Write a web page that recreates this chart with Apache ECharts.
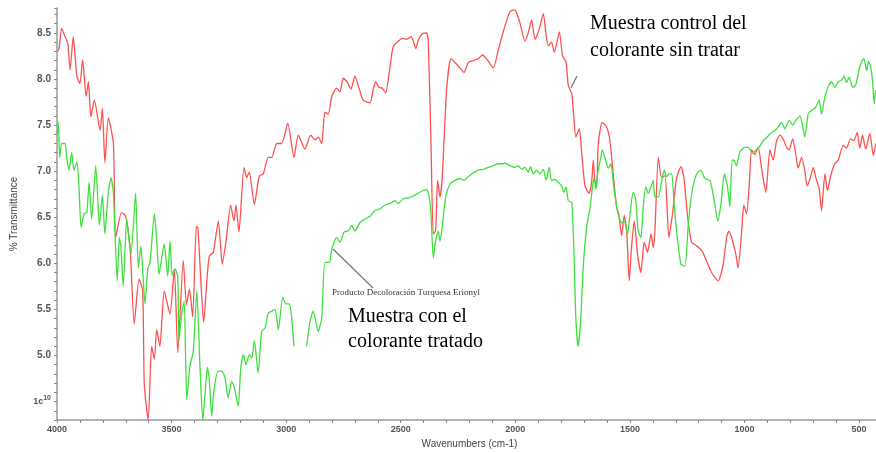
<!DOCTYPE html>
<html>
<head>
<meta charset="utf-8">
<title>Espectro IR</title>
<script src="https://cdn.jsdelivr.net/npm/echarts@6/dist/echarts.min.js"></script>
<style>
html, body { margin: 0; height: 100%; background: #fff; }
#main { width: 876px; height: 453px; }
</style>
</head>
<body>
<div id="main"></div>
<script>
// muestra control (sin tratar) - [wavenumber, %T]
var controlData = [
  [3998,8.30],[3991,8.33],[3980,8.55],[3965,8.46],[3953,8.39],[3943,8.10],[3929,8.46],[3914,8.04],[3900,7.95],
  [3888,8.21],[3873,7.81],[3863,7.97],[3852,7.59],[3837,7.77],[3812,7.44],[3802,7.68],[3791,7.09],[3776,7.58],
  [3754,7.30],[3744,6.28],[3718,6.55],[3700,6.51],[3681,6.17],[3663,5.34],[3642,5.83],[3626,5.70],[3619,4.68],
  [3602,4.30],[3587,5.10],[3575,4.96],[3565,5.28],[3551,5.10],[3532,5.70],[3507,5.45],[3488,5.94],[3473,5.03],
  [3449,6.03],[3435,5.55],[3422,5.72],[3408,5.42],[3392,6.40],[3385,6.38],[3370,5.70],[3360,5.36],[3345,5.85],
  [3335,6.08],[3318,6.12],[3296,6.46],[3279,5.99],[3263,6.23],[3242,6.63],[3228,6.46],[3219,6.63],[3206,6.34],
  [3184,7.04],[3172,6.93],[3161,6.99],[3139,6.64],[3117,6.95],[3100,6.97],[3078,7.15],[3063,7.15],[3041,7.30],
  [3020,7.30],[2993,7.52],[2966,7.15],[2947,7.39],[2918,7.24],[2893,7.39],[2874,7.34],[2860,7.37],[2845,7.30],
  [2831,7.64],[2816,7.62],[2801,7.81],[2780,7.90],[2765,7.86],[2751,8.01],[2732,7.96],[2717,7.89],[2700,8.03],
  [2682,7.90],[2664,7.77],[2634,7.74],[2620,7.89],[2609,7.97],[2595,7.91],[2581,7.90],[2566,7.85],[2547,8.13],
  [2533,8.35],[2511,8.41],[2493,8.44],[2474,8.43],[2455,8.46],[2445,8.41],[2434,8.33],[2424,8.42],[2406,8.49],
  [2387,8.50],[2380,8.41],[2368,7.30],[2358,6.32],[2348,6.35],[2339,6.90],[2329,6.72],[2319,6.93],[2300,7.88],
  [2281,8.22],[2260,8.17],[2242,8.12],[2224,8.07],[2205,8.18],[2184,8.20],[2162,8.22],[2143,8.26],[2123,8.21],
  [2096,8.12],[2075,8.31],[2053,8.51],[2024,8.73],[2002,8.75],[1992,8.70],[1980,8.61],[1958,8.41],[1944,8.50],
  [1929,8.64],[1914,8.43],[1897,8.53],[1878,8.71],[1866,8.48],[1856,8.36],[1842,8.40],[1830,8.29],[1808,8.51],
  [1794,8.25],[1779,8.19],[1769,7.93],[1754,7.84],[1747,7.66],[1736,7.37],[1721,7.46],[1711,7.21],[1696,6.84],
  [1678,6.76],[1667,6.88],[1660,7.12],[1653,6.90],[1645,6.84],[1638,7.30],[1621,7.53],[1602,7.48],[1587,7.33],
  [1573,6.97],[1558,6.61],[1548,6.52],[1536,6.30],[1525,6.52],[1514,6.35],[1503,5.81],[1493,6.17],[1481,6.46],
  [1467,6.10],[1452,5.90],[1438,6.23],[1423,6.12],[1408,6.32],[1398,6.17],[1391,6.35],[1376,7.15],[1362,6.93],
  [1347,6.95],[1330,6.28],[1314,6.54],[1296,6.93],[1277,7.05],[1263,6.90],[1248,6.50],[1231,6.23],[1209,6.19],
  [1187,6.14],[1166,6.03],[1144,5.90],[1115,5.81],[1093,5.99],[1078,6.28],[1068,6.35],[1056,6.28],[1049,6.21],
  [1038,6.10],[1028,5.95],[1013,6.32],[1003,6.63],[991,6.54],[980,6.83],[969,7.23],[955,7.18],[940,7.26],
  [926,7.04],[907,6.77],[889,7.23],[875,7.12],[860,7.33],[846,7.39],[828,7.33],[817,7.26],[805,7.23],
  [790,7.35],[776,7.18],[766,7.03],[751,7.15],[737,7.01],[727,6.84],[715,6.91],[700,7.04],[689,6.93],
  [674,6.81],[664,6.57],[649,6.97],[638,6.79],[624,6.95],[606,7.08],[591,7.12],[569,7.28],[555,7.25],
  [537,7.35],[523,7.33],[508,7.42],[497,7.25],[485,7.39],[471,7.24],[453,7.41],[438,7.17],[427,7.30]
];

// muestra tratada (producto decoloracion)
var tratadoData = [
  [3998,7.40],[3994,7.53],[3988,7.15],[3980,7.30],[3965,7.30],[3958,7.15],[3948,7.01],[3936,7.20],[3926,7.01],
  [3913,7.10],[3904,6.83],[3895,6.39],[3881,6.54],[3870,6.55],[3860,6.88],[3849,6.48],[3831,7.06],[3815,6.41],
  [3802,6.74],[3791,6.32],[3776,6.77],[3764,6.93],[3754,6.76],[3747,6.32],[3737,5.81],[3728,6.28],[3721,6.17],
  [3711,5.75],[3696,6.48],[3689,6.32],[3677,6.10],[3657,6.76],[3645,5.95],[3634,6.19],[3616,5.56],[3604,5.94],
  [3594,6.01],[3575,6.54],[3565,6.24],[3555,5.88],[3543,6.06],[3532,6.21],[3517,5.86],[3507,6.24],[3497,5.87],
  [3485,5.94],[3473,5.85],[3468,5.16],[3456,5.45],[3445,5.59],[3434,4.52],[3420,4.88],[3405,5.05],[3390,5.70],
  [3376,4.87],[3364,4.30],[3354,4.58],[3344,4.87],[3335,4.72],[3325,4.34],[3315,4.63],[3296,4.83],[3281,4.83],
  [3267,4.76],[3253,4.54],[3238,4.72],[3226,4.65],[3209,4.45],[3199,4.83],[3187,5.01],[3175,4.90],[3161,5.01],
  [3150,4.97],[3139,5.16],[3122,4.81],[3107,5.26],[3092,5.30],[3078,5.46],[3063,5.48],[3049,5.50],[3034,5.28],
  [3015,5.63],[3001,5.56],[2986,5.56],[2976,5.41],[2966,5.10],[2940,'-'],[2911,5.10],[2896,5.37],[2882,5.48],
  [2860,5.26],[2845,5.41],[2831,6.01],[2812,6.01],[2801,6.15],[2780,6.28],[2765,6.23],[2747,6.34],[2729,6.35],
  [2714,6.41],[2700,6.35],[2678,6.44],[2656,6.48],[2634,6.51],[2613,6.57],[2591,6.59],[2569,6.63],[2547,6.65],
  [2525,6.68],[2511,6.65],[2489,6.70],[2467,6.71],[2445,6.73],[2424,6.76],[2402,6.79],[2387,6.80],[2377,6.74],
  [2368,6.54],[2358,6.06],[2348,6.24],[2336,6.35],[2329,6.24],[2319,6.39],[2304,6.72],[2285,6.86],[2264,6.90],
  [2242,6.92],[2224,6.90],[2205,6.94],[2184,6.98],[2162,7.01],[2140,7.02],[2118,7.04],[2096,7.06],[2075,7.08],
  [2053,7.08],[2046,7.09],[2024,7.06],[2002,7.04],[1988,7.06],[1973,7.02],[1958,7.04],[1944,6.99],[1933,7.05],
  [1922,6.97],[1907,7.01],[1893,6.97],[1878,7.02],[1866,6.90],[1852,7.04],[1842,6.90],[1827,6.91],[1813,6.88],
  [1798,6.84],[1788,6.77],[1779,6.83],[1769,6.68],[1754,6.66],[1744,6.10],[1736,5.41],[1726,5.10],[1715,5.37],
  [1704,5.95],[1689,6.39],[1675,6.59],[1663,6.83],[1656,6.93],[1648,6.80],[1641,6.97],[1627,7.15],[1621,7.23],
  [1606,7.12],[1595,7.03],[1583,7.08],[1573,6.88],[1562,6.68],[1551,6.53],[1536,6.44],[1525,6.46],[1510,6.32],
  [1500,6.53],[1486,6.77],[1475,6.70],[1464,6.35],[1452,6.28],[1442,6.61],[1431,6.83],[1420,6.76],[1408,6.83],
  [1398,6.90],[1391,6.72],[1376,6.72],[1362,6.88],[1350,7.01],[1340,6.94],[1330,6.97],[1318,6.97],[1307,6.64],
  [1292,6.25],[1277,5.99],[1260,5.97],[1245,6.43],[1228,6.79],[1209,6.97],[1190,7.01],[1173,6.92],[1151,6.90],
  [1132,6.68],[1117,6.46],[1103,6.64],[1088,6.97],[1074,6.83],[1064,6.61],[1054,7.12],[1046,7.12],[1035,7.06],
  [1020,7.21],[998,7.26],[980,7.25],[965,7.19],[950,7.23],[936,7.26],[918,7.33],[901,7.37],[886,7.41],
  [867,7.44],[853,7.48],[838,7.53],[824,7.46],[805,7.55],[790,7.50],[776,7.55],[758,7.60],[747,7.50],
  [737,7.37],[722,7.62],[707,7.66],[693,7.68],[682,7.73],[674,7.77],[664,7.62],[649,7.81],[634,7.92],
  [620,7.97],[606,7.91],[591,7.97],[576,7.99],[566,8.03],[555,7.96],[543,8.02],[528,7.91],[514,7.94],
  [500,8.10],[489,8.19],[479,8.22],[467,8.09],[459,8.19],[450,8.14],[441,7.97],[434,7.73],[428,7.88]
];

var chart = echarts.init(document.getElementById('main'));

var serif = '"Liberation Serif", "Times New Roman", serif';
var sans = 'Arial, "Liberation Sans", sans-serif';

var option = {
  animation: false,
  backgroundColor: '#fff',
  grid: { left: 57, right: -6, top: 8, bottom: 33, containLabel: false, outerBoundsMode: 'none' },
  xAxis: {
    type: 'value',
    inverse: true,
    min: 400,
    max: 4000,
    interval: 100,
    name: 'Wavenumbers (cm-1)',
    nameLocation: 'middle',
    nameGap: 19,
    nameTextStyle: { fontFamily: sans, fontSize: 10, color: '#444' },
    splitLine: { show: false },
    axisLine: { lineStyle: { color: '#9a9a9a', width: 1.5 } },
    axisTick: { length: 3, lineStyle: { color: '#888' } },
    axisLabel: {
      margin: 5,
      fontSize: 9,
      fontWeight: 'bold',
      color: '#555',
      fontFamily: sans,
      formatter: function (v) {
        return (Math.round(v) % 500 === 0) ? String(Math.round(v)) : '';
      }
    }
  },
  yAxis: {
    type: 'value',
    min: 4.3,
    max: 8.77,
    interval: 0.1,
    name: '% Transmittance',
    nameLocation: 'middle',
    nameGap: 38,
    nameTextStyle: { fontFamily: sans, fontSize: 10, color: '#444' },
    splitLine: { show: false },
    axisLine: { show: true, lineStyle: { color: '#9a9a9a', width: 1.5 } },
    axisTick: { show: true, length: 3, lineStyle: { color: '#888' } },
    axisLabel: {
      margin: 6,
      fontSize: 10,
      fontWeight: 'bold',
      color: '#555',
      fontFamily: sans,
      formatter: function (v) {
        var k = Math.round(v * 10);
        if (Math.abs(v * 10 - k) > 0.01 || k % 5 !== 0) return '';
        if (k === 45) return '{e|1c}{s|10}';
        return (k / 10).toFixed(1);
      },
      rich: {
        e: { fontSize: 9, color: '#555', fontWeight: 'bold', fontFamily: sans },
        s: { fontSize: 7, color: '#555', fontWeight: 'bold', fontFamily: sans, padding: [0, 0, 7, 0] }
      }
    }
  },
  series: [
    {
      name: 'Muestra control del colorante sin tratar',
      type: 'line',
      data: controlData,
      showSymbol: false,
      symbol: 'none',
      smooth: 0.2,
      lineStyle: { color: '#ff5050', width: 1.3 }
    },
    {
      name: 'Muestra con el colorante tratado',
      type: 'line',
      data: tratadoData,
      showSymbol: false,
      symbol: 'none',
      smooth: 0.2,
      connectNulls: false,
      lineStyle: { color: '#3ee03e', width: 1.3 }
    }
  ],
  graphic: [
    { type: 'line', shape: { x1: 333, y1: 249, x2: 373, y2: 288 }, style: { stroke: '#777', lineWidth: 1.2 } },
    { type: 'line', shape: { x1: 571, y1: 88, x2: 577, y2: 76 }, style: { stroke: '#777', lineWidth: 1.2 } },
    { type: 'text', left: 332, top: 288, style: { text: 'Producto Decoloración Turquesa Erionyl', font: '9px ' + serif, fill: '#333' } },
    { type: 'text', left: 590, top: 14, style: { text: 'Muestra control del', font: '20px ' + serif, fill: '#000' } },
    { type: 'text', left: 590, top: 41, style: { text: 'colorante sin tratar', font: '20px ' + serif, fill: '#000' } },
    { type: 'text', left: 348, top: 307, style: { text: 'Muestra con el', font: '20px ' + serif, fill: '#000' } },
    { type: 'text', left: 348, top: 332, style: { text: 'colorante tratado', font: '20px ' + serif, fill: '#000' } }
  ]
};

chart.setOption(option);
</script>
</body>
</html>
